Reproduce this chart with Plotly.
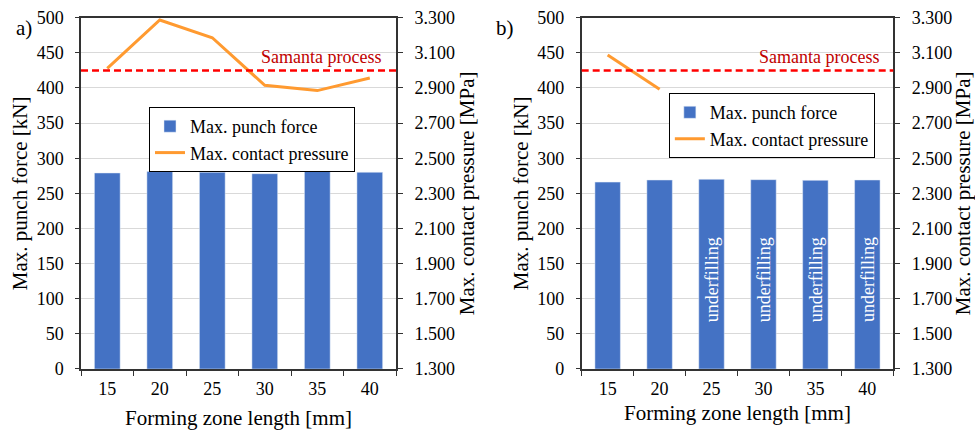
import plotly.graph_objects as go

lengths = ["15", "20", "25", "30", "35", "40"]
force_a = [279, 281, 280, 278, 281.5, 280]
pressure_a = [3012, 3287, 3186, 2915, 2885, 2957]
force_b = [266, 269, 270, 269.5, 268.5, 269]
pressure_b = [3088, 2892, None, None, None, None]
samanta_pressure = 3000
underfill_labels = ["", "", "underfilling", "underfilling", "underfilling", "underfilling"]
underfill_y = 127

FONT = "Liberation Serif, Times New Roman, DejaVu Serif, serif"
BAR_C = "#4472C4"
LINE_C = "#FF9A30"

fig = go.Figure()
fig.add_trace(go.Bar(x=lengths, y=force_a, name="Max. punch force", marker_color=BAR_C,
                     xaxis="x", yaxis="y", legend="legend"))
fig.add_trace(go.Scatter(x=lengths, y=pressure_a, name="Max. contact pressure", mode="lines",
                         line=dict(color=LINE_C, width=3), xaxis="x", yaxis="y3", legend="legend"))
fig.add_trace(go.Bar(x=lengths, y=force_b, name="Max. punch force", marker_color=BAR_C,
                     xaxis="x2", yaxis="y2", legend="legend2"))
fig.add_trace(go.Scatter(x=lengths, y=pressure_b, name="Max. contact pressure", mode="lines",
                         line=dict(color=LINE_C, width=3), xaxis="x2", yaxis="y4", legend="legend2",
                         connectgaps=False))

y_dom = [0.1478, 0.9591]
xa = dict(type="category", range=[-0.5, 5.5], showline=True, linecolor="#333333", linewidth=1.5,
          mirror=True, ticks="outside", tickson="boundaries", ticklen=5, tickcolor="#333333",
          tickfont=dict(size=18), tickangle=0, showgrid=False, automargin=False,
          ticklabelstandoff=3)
ya = dict(range=[0, 500], dtick=50, showline=True, linecolor="#333333", linewidth=1.5,
          ticks="outside", ticklen=4, tickcolor="#333333", showgrid=True, gridcolor="#D9D9D9",
          gridwidth=1, tickfont=dict(size=18), domain=y_dom, zeroline=False,
          ticklabelstandoff=8, automargin=False,
          title=dict(text="Max. punch force [kN]", font=dict(size=21), standoff=3))
yb = dict(range=[1300, 3300], tick0=1300, dtick=200, showline=True, linecolor="#333333", linewidth=1.5,
          ticks="outside", ticklen=5, tickcolor="#333333", showgrid=False, tickformat=",.0f",
          tickfont=dict(size=18), side="right", zeroline=False, ticklabelstandoff=8,
          automargin=False,
          title=dict(text="Max. contact pressure [MPa]", font=dict(size=21), standoff=3))

fig.update_layout(
    width=975, height=433, margin=dict(l=0, r=0, t=0, b=0, autoexpand=False),
    paper_bgcolor="white", plot_bgcolor="white",
    font=dict(family=FONT, color="black", size=18),
    separators=",.",
    bargap=0.51,
    showlegend=True,
    xaxis=dict(xa, domain=[0.0831, 0.4062], anchor="y",
               title=dict(text="Forming zone length [mm]", font=dict(size=21), standoff=12)),
    xaxis2=dict(xa, domain=[0.5966, 0.9162], anchor="y2",
                title=dict(text="Forming zone length [mm]", font=dict(size=21), standoff=7)),
    yaxis=dict(ya, anchor="x"),
    yaxis2=dict(ya, anchor="x2"),
    yaxis3=dict(yb, overlaying="y", anchor="x"),
    yaxis4=dict(yb, overlaying="y2", anchor="x2"),
    legend=dict(x=0.1528, y=0.7529, xanchor="left", yanchor="top", bgcolor="white",
                bordercolor="black", borderwidth=1, font=dict(size=18), tracegroupgap=0,
                itemwidth=30),
    legend2=dict(x=0.686, y=0.785, xanchor="left", yanchor="top", bgcolor="white",
                 bordercolor="black", borderwidth=1, font=dict(size=18), tracegroupgap=0,
                 itemwidth=30),
)

for xr, yr in [("x", "y3"), ("x2", "y4")]:
    fig.add_shape(type="line", xref=xr + " domain", yref=yr, x0=0, x1=1,
                  y0=samanta_pressure, y1=samanta_pressure,
                  line=dict(color="#FF0000", width=2.5, dash="7px,4px"))
    fig.add_annotation(xref=xr + " domain", yref=yr, x=0.96, y=samanta_pressure,
                       text="Samanta process", showarrow=False, xanchor="right", yanchor="bottom",
                       yshift=1, font=dict(size=18, color="#C00000"))

fig.add_annotation(xref="paper", yref="paper", x=0.0246, y=0.935, text="a)", showarrow=False,
                   xanchor="center", yanchor="middle", font=dict(size=21))
fig.add_annotation(xref="paper", yref="paper", x=0.518, y=0.935, text="b)", showarrow=False,
                   xanchor="center", yanchor="middle", font=dict(size=21))

for i, lab in enumerate(underfill_labels):
    if lab:
        fig.add_annotation(xref="x2", yref="y2", x=i, y=underfill_y, text=lab, textangle=-90,
                           showarrow=False, font=dict(size=18, color="white"))

fig.write_html("out.html", config={"displayModeBar": False},
               post_script="document.body.style.margin='0';document.body.style.overflow='hidden';")
